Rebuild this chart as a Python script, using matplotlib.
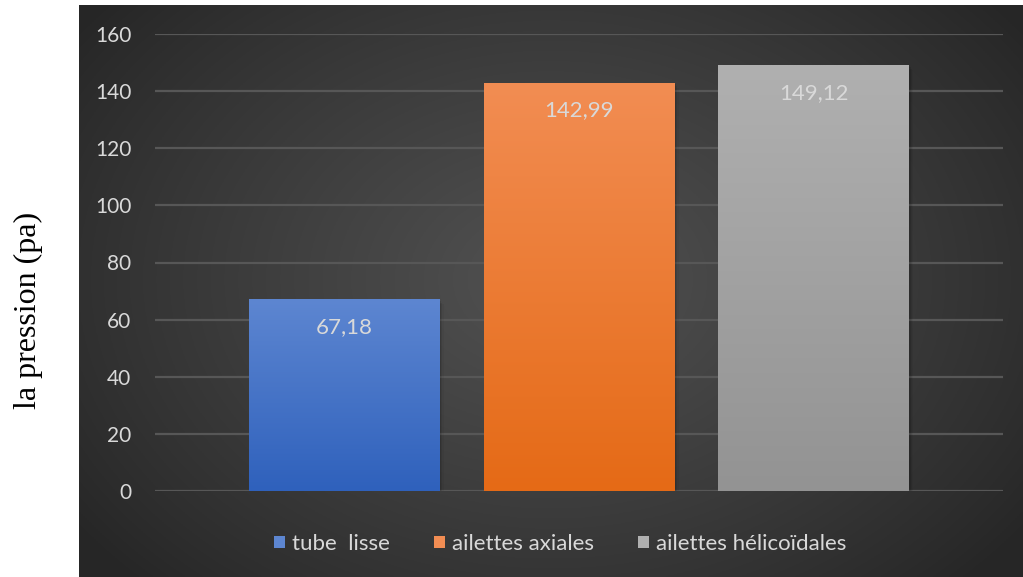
"""Bar chart of pressure for three tube configurations."""

import numpy as np
import matplotlib
matplotlib.use("Agg")
import matplotlib.pyplot as plt
from matplotlib.colors import LinearSegmentedColormap
from matplotlib.patches import Rectangle

categories = ["tube  lisse", "ailettes axiales", "ailettes hélicoïdales"]
pressure = [67.18, 142.99, 149.12]
value_labels = ["67,18", "142,99", "149,12"]
yticks = [0, 20, 40, 60, 80, 100, 120, 140, 160]

# top / bottom colours of each bar gradient
bar_grad = [("#5d86d1", "#2f61bc"), ("#f28d53", "#e56a16"), ("#b0b0b0", "#939393")]

W, H = 1023, 577
fig = plt.figure(figsize=(W / 100, H / 100), dpi=100, facecolor="white")

# dark panel with radial gradient
bg = fig.add_axes([79 / W, 0, 1 - 79 / W, 1 - 5 / H])
bg.set_axis_off()
yy, xx = np.mgrid[0:1:300j, 0:1:500j]
r = np.sqrt(((xx - 0.5) / 0.62) ** 2 + ((yy - 0.52) / 0.75) ** 2)
shade = np.clip(1 - r, 0, 1)
lum = 0.15 + 0.17 * shade ** 0.9
img = np.dstack([lum, lum, lum])
bg.imshow(img, aspect="auto", extent=[0, 1, 0, 1], origin="lower")
bg.set_xlim(0, 1)
bg.set_ylim(0, 1)

ax = fig.add_axes([155 / W, 86 / H, 848 / W, 457 / H])
ax.set_facecolor("none")
for s in ax.spines.values():
    s.set_visible(False)

x = np.arange(len(categories))
width = 0.813
ax.set_xlim(-0.806, 2.806)
ax.set_ylim(0, 160)
ax.set_yticks(yticks)
ax.set_yticklabels([str(t) for t in yticks])
ax.set_xticks([])
ax.tick_params(axis="y", length=0, pad=17, labelsize=15, labelcolor="#d9d9d9")
for lab in ax.get_yticklabels():
    lab.set_fontfamily("Lato")
ax.grid(axis="y", color="#575757", linewidth=1.6, zorder=0)
ax.set_axisbelow(True)

handles = []
for i, (xi, v) in enumerate(zip(x, pressure)):
    top, bot = bar_grad[i]
    cmap = LinearSegmentedColormap.from_list(f"g{i}", [bot, top])
    x0 = xi - width / 2
    # soft shadow
    for k, a in enumerate([0.10, 0.07, 0.04]):
        off = 0.006 * (k + 1)
        ax.add_patch(Rectangle((x0 + off, -0.6 * (k + 1)), width, v,
                               facecolor="black", alpha=a, edgecolor="none", zorder=2))
    bar = ax.bar(xi, v, width, color="none", edgecolor="none", zorder=3)[0]
    grad = np.linspace(0, 1, 256).reshape(-1, 1)
    im = ax.imshow(grad, cmap=cmap, aspect="auto", origin="lower",
                   extent=[x0, x0 + width, 0, v], zorder=3)
    im.set_clip_path(bar)
    ax.annotate(value_labels[i], (xi, v), xytext=(0, -20), textcoords="offset points",
                ha="center", va="center", fontsize=16, color="#d9d9d9",
                family="Lato", zorder=4)
    handles.append(Rectangle((0, 0), 1, 1, facecolor=top, edgecolor="none"))

ax.set_xlim(-0.806, 2.806)
ax.set_ylim(0, 160)

leg = fig.legend(handles, categories, loc="center", bbox_to_anchor=(560 / W, 1 - 544 / H),
                 ncol=3, frameon=False, handlelength=0.5, handleheight=0.5,
                 handletextpad=0.3, columnspacing=2.0,
                 prop={"family": "Lato", "size": 16})
for t in leg.get_texts():
    t.set_color("#d9d9d9")

fig.text(28 / W, 1 - 310 / H, "la pression (pa)", rotation=90, ha="center", va="center",
         fontsize=23, family="Liberation Serif", color="black")

fig.savefig("out.png", dpi=100, facecolor="white")
